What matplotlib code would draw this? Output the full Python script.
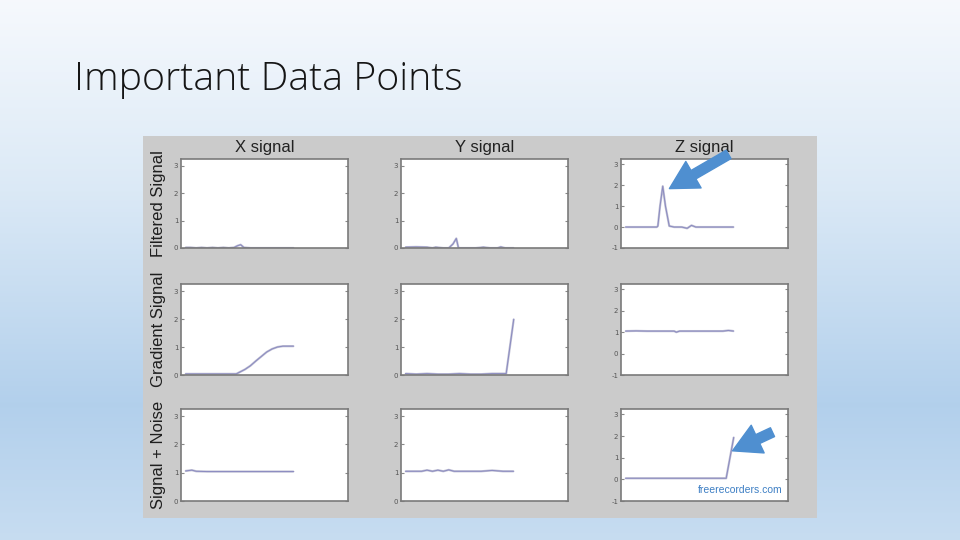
import numpy as np
import matplotlib
matplotlib.use("Agg")
import matplotlib.pyplot as plt
from matplotlib.patches import Rectangle, FancyArrowPatch

plt.rcParams["axes.unicode_minus"] = False

# ---------------- data ----------------
slide_title = "Important Data Points"
col_titles = ["X signal", "Y signal", "Z signal"]
row_labels = ["Filtered Signal", "Gradient Signal", "Signal + Noise"]
watermark = "freerecorders.com"

# sample positions (arbitrary time index) and values for each panel
x_filt_t = [0, 5, 10, 15, 20, 25, 30, 35, 40, 45, 48, 51, 54, 60, 70, 80, 90, 100]
x_filt_v = [0.02, 0.02, 0.0, 0.02, 0.0, 0.02, 0.0, 0.02, 0.0, 0.02, 0.08, 0.12, 0.02, 0.0, 0.0, 0.0, 0.0, 0.0]

y_filt_t = [0, 10, 20, 25, 28, 35, 40, 44, 47, 49, 55, 65, 72, 78, 85, 88, 92, 100]
y_filt_v = [0.03, 0.04, 0.03, 0.0, 0.03, 0.0, 0.0, 0.15, 0.35, 0.0, 0.0, 0.0, 0.03, 0.0, 0.0, 0.04, 0.0, 0.0]

z_filt_t = [0, 10, 20, 29, 30, 32, 34.5, 37, 40.5, 45, 52, 57, 61, 65, 75, 90, 100]
z_filt_v = [0.0, 0.0, 0.0, 0.0, 0.05, 1.0, 1.95, 1.0, 0.05, 0.0, 0.0, -0.06, 0.08, 0.0, 0.0, 0.0, 0.0]

x_grad_t = [0, 20, 40, 47, 55, 60, 65, 70, 75, 80, 85, 90, 100]
x_grad_v = [0.04, 0.04, 0.04, 0.04, 0.2, 0.33, 0.5, 0.66, 0.82, 0.93, 1.0, 1.03, 1.03]

y_grad_t = [0, 10, 20, 30, 40, 50, 60, 70, 80, 93, 100]
y_grad_v = [0.05, 0.03, 0.05, 0.03, 0.03, 0.05, 0.03, 0.03, 0.05, 0.05, 2.0]

z_grad_t = [0, 10, 20, 40, 45, 47, 50, 70, 90, 95, 100]
z_grad_v = [1.05, 1.06, 1.05, 1.05, 1.05, 1.0, 1.05, 1.05, 1.05, 1.08, 1.05]

x_noise_t = [0, 6, 10, 20, 40, 60, 80, 100]
x_noise_v = [1.06, 1.09, 1.05, 1.04, 1.04, 1.04, 1.04, 1.04]

y_noise_t = [0, 15, 20, 25, 30, 35, 40, 45, 50, 60, 70, 80, 90, 100]
y_noise_v = [1.05, 1.05, 1.09, 1.05, 1.09, 1.05, 1.1, 1.05, 1.05, 1.05, 1.05, 1.08, 1.05, 1.05]

z_noise_t = [0, 20, 40, 60, 80, 93, 100]
z_noise_v = [0.05, 0.05, 0.05, 0.05, 0.05, 0.05, 1.95]

series = [
    [(x_filt_t, x_filt_v), (y_filt_t, y_filt_v), (z_filt_t, z_filt_v)],
    [(x_grad_t, x_grad_v), (y_grad_t, y_grad_v), (z_grad_t, z_grad_v)],
    [(x_noise_t, x_noise_v), (y_noise_t, y_noise_v), (z_noise_t, z_noise_v)],
]
ylims_xy = (0, 3.25)
ylims_z = (-1, 3.25)
yticks_xy = [0, 1, 2, 3]
yticks_z = [-1, 0, 1, 2, 3]

# ---------------- figure ----------------
W, H = 960, 540
fig = plt.figure(figsize=(9.6, 5.4), dpi=100)

# slide background gradient
bg = fig.add_axes([0, 0, 1, 1], zorder=-10)
bg.axis("off")
stops_y = np.array([0.0, 0.35, 0.75, 1.0])
stops_c = np.array([
    [0.965, 0.976, 0.992],
    [0.86, 0.915, 0.965],
    [0.70, 0.815, 0.925],
    [0.78, 0.865, 0.945],
])
yy = np.linspace(0, 1, 256)
grad = np.stack([np.interp(yy, stops_y, stops_c[:, k]) for k in range(3)], axis=-1)
grad = np.repeat(grad[:, None, :], 4, axis=1)
bg.imshow(grad, aspect="auto", extent=[0, 1, 1, 0])
bg.set_xlim(0, 1)
bg.set_ylim(1, 0)

def fx(px):
    return px / W

def fy(py):
    return 1 - py / H

# title
fig.text(fx(74), fy(80), slide_title, fontsize=28.3, family="Open Sans",
         fontweight="light", color="#151515", va="center", ha="left")

# gray panel
fig.patches.append(Rectangle((fx(143), fy(518)), fx(817) - fx(143), fy(136) - fy(518),
                             transform=fig.transFigure, facecolor="#cbcbcb",
                             edgecolor="none", zorder=-5))

col_left = [181, 401, 621]
ax_w = 167
row_top = [159, 284, 409]
row_bot = [248, 375, 501]

line_font = "Liberation Sans"
for r in range(3):
    for c in range(3):
        l = fx(col_left[c])
        b = fy(row_bot[r])
        ax = fig.add_axes([l, b, ax_w / W, (row_bot[r] - row_top[r]) / H])
        t, v = series[r][c]
        ax.plot(t, v, color="#c0c0d4", lw=1.6, solid_capstyle="butt", zorder=1.5)
        ax.plot(t, v, color="#8a8ac0", lw=0.7, zorder=1.6)
        ax.set_xlim(-4, 150)
        if c == 2:
            ax.set_ylim(*ylims_z)
            ax.set_yticks(yticks_z)
        else:
            ax.set_ylim(*ylims_xy)
            ax.set_yticks(yticks_xy)
        ax.set_xticks([])
        ax.tick_params(axis="y", direction="in", length=2, width=0.8,
                       color="#888888", labelsize=5, labelcolor="#555555",
                       right=True, pad=2)
        for s in ax.spines.values():
            s.set_color("#7a7a7a")
            s.set_linewidth(1.2)
        ax.set_facecolor("white")
        if r == 0:
            ax.set_title(col_titles[c], fontsize=12, family=line_font,
                         color="#222222", pad=5)
        if c == 0:
            fig.text(fx(158), (fy(row_top[r]) + fy(row_bot[r])) / 2, row_labels[r],
                     rotation=90, fontsize=12, family=line_font, color="#1e1e1e",
                     ha="center", va="center")
        if r == 2 and c == 2:
            ax.text(0.97, 0.06, watermark, transform=ax.transAxes, ha="right",
                    va="bottom", fontsize=7.5, family=line_font, color="#3d7fc4")

# blue annotation arrows
arrow_color = "#4f8fd0"
for (x0, y0), (x1, y1) in [((731, 153), (667, 190)), ((775, 431), (730, 452))]:
    fig.patches.append(FancyArrowPatch(
        (x0, H - y0), (x1, H - y1), transform=None,
        arrowstyle="simple,head_width=11,head_length=10,tail_width=3.5",
        mutation_scale=2, color=arrow_color, zorder=20))

fig.savefig("out.png", dpi=100)
